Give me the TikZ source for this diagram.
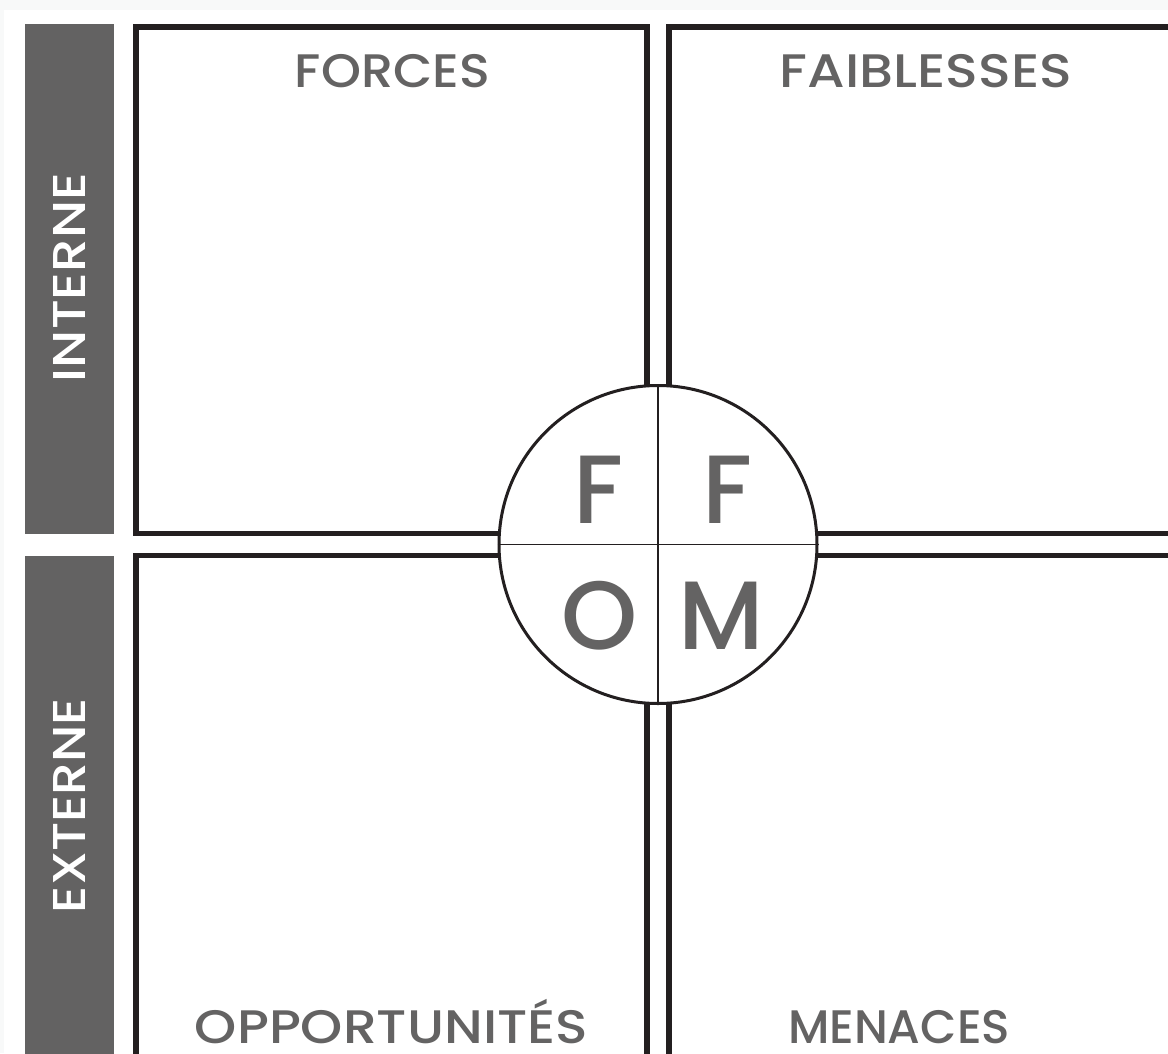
\documentclass[tikz,border=0pt]{standalone}
\usepackage{fontspec}
\usepackage{graphicx}
\setmainfont{Poppins}
\IfFontExistsTF{Poppins Medium}{\newfontfamily\labfont{Poppins Medium}}{\newfontfamily\labfont{Poppins}}
\definecolor{bgout}{HTML}{F8F9F9}
\definecolor{barcol}{HTML}{636262}
\definecolor{linecol}{HTML}{231F20}
\definecolor{txtcol}{HTML}{646363}
\newcommand{\fitw}[2]{\resizebox{#1}{\height}{#2}}
\tikzset{
  quad/.style={draw=linecol, line width=5.5pt},
  bar/.style={fill=barcol, draw=none},
  label/.style={text=txtcol, font=\labfont\fontsize{47}{47}\selectfont, anchor=base, inner sep=0pt},
  sidelabel/.style={text=white, font=\labfont\fontsize{46}{46}\selectfont, rotate=90, inner sep=0pt},
  bigletter/.style={text=txtcol, font=\labfont\fontsize{97}{97}\selectfont, anchor=base, inner sep=0pt},
}
\begin{document}
\begin{tikzpicture}[x=1pt,y=-1pt]
\useasboundingbox (0,0) rectangle (1168,1053);
\fill[bgout] (0,0) rectangle (1168,1053);
\clip (0,0) rectangle (1168,1053);
\fill[white] (4,10) rectangle (1168,1053);
% side bars
\fill[bar] (25,24) rectangle (114,534);
\fill[bar] (25,556) rectangle (114,1080);
\node[sidelabel] (interne) at (69,277.5) {\fitw{209pt}{INTERNE}};
\node[sidelabel] (externe) at (69,805.5) {\fitw{215pt}{EXTERNE}};
% quadrants
\draw[quad] (136,27) rectangle (647,533.5);
\draw[quad] (669,27) rectangle (1200,533.5);
\draw[quad] (136,555.5) rectangle (647,1100);
\draw[quad] (669,555.5) rectangle (1200,1100);
% labels
\node[label] (forces) at (392.5,87) {\fitw{195pt}{FORCES}};
\node[label] (faiblesses) at (926,87) {\fitw{292pt}{FAIBLESSES}};
\node[label] (opport) at (391.5,1043) {\fitw{393pt}{OPPORTUNITÉS}};
\node[label] (menaces) at (899,1043) {\fitw{222pt}{MENACES}};
% centre circle
\node[circle, draw=linecol, fill=white, line width=3pt, minimum size=318pt, inner sep=0pt] (ring) at (658,544.5) {};
\draw[linecol, line width=1.5pt] (ring.north) -- (ring.south);
\draw[linecol, line width=1.5pt] (ring.west) -- (ring.east);
\node[bigletter] (f1) at (598.5,523) {F};
\node[bigletter] (f2) at (727.5,523) {F};
\node[bigletter] (o) at (599.5,649) {O};
\node[bigletter] (m) at (721.5,649) {M};
\end{tikzpicture}
\end{document}
